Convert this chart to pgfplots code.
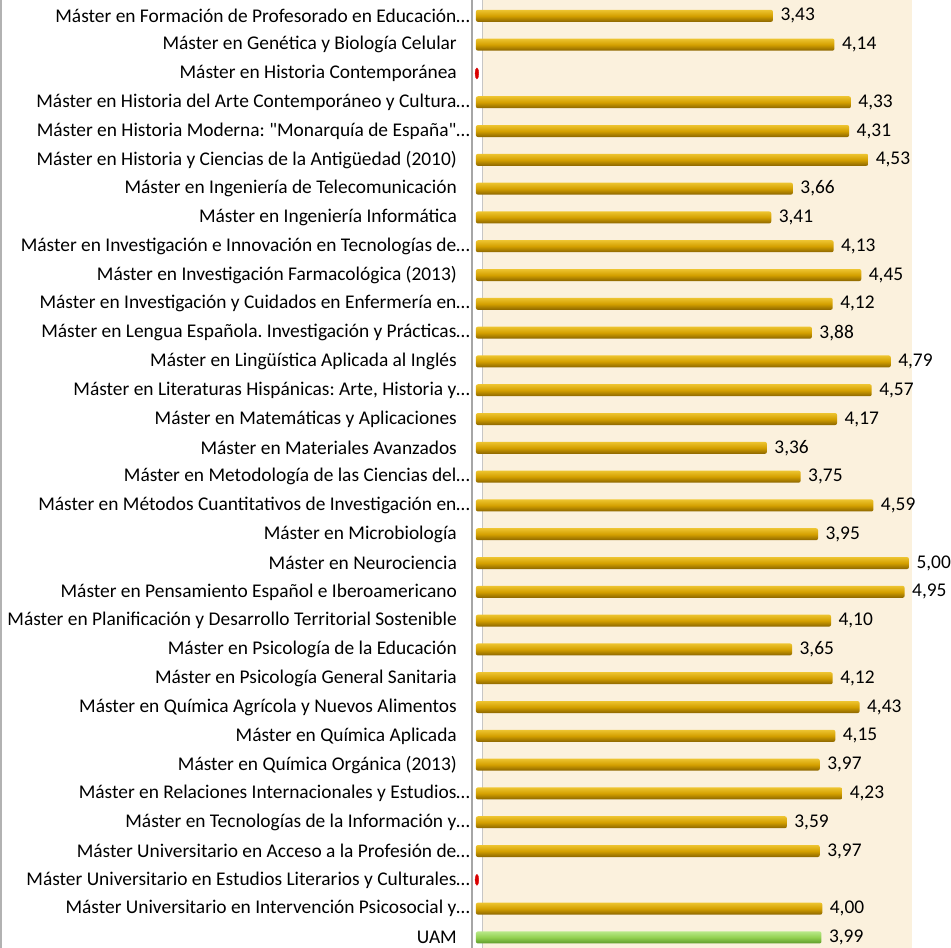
\documentclass[border=0pt]{standalone}
\usepackage{fontspec}
\setmainfont{Carlito}
\usepackage{pgfplots}
\pgfplotsset{compat=1.18}
\frenchspacing
\definecolor{gold}{HTML}{D4A000}
\definecolor{goldlight}{HTML}{EDC430}
\definecolor{golddark}{HTML}{8A6500}
\definecolor{grn}{HTML}{92D050}
\definecolor{grnlight}{HTML}{B8E888}
\definecolor{grndark}{HTML}{5C9A2A}
\definecolor{panel}{HTML}{FBF1DD}
\newcommand{\tsp}{\hspace*{13pt}}
\pgfplotsset{
  vbase/.style={xbar, bar width=12pt, draw=none, rounded corners=2pt,
    nodes near coords,
    nodes near coords style={font=\fontsize{19.4}{23}\selectfont, anchor=west, xshift=4pt, text=black}},
  gbar/.style={vbase, top color=goldlight, bottom color=golddark, middle color=gold},
  ubar/.style={vbase, top color=grnlight, bottom color=grndark, middle color=grn},
}
\begin{document}
\begin{tikzpicture}
\begin{axis}[
  scale only axis, width=440pt, height=950.4pt,
  xmin=-0.045, xmax=5.035, ymin=0.45, ymax=33.45, y dir=reverse,
  axis line style={draw=none}, xtick=\empty,
  ytick={1,...,33}, major tick length=0pt,
  yticklabels={
    {Máster en Formación de Profesorado en Educación…},
    {Máster en Genética y Biología Celular\tsp},
    {Máster en Historia Contemporánea\tsp},
    {Máster en Historia del Arte Contemporáneo y Cultura…},
    {Máster en Historia Moderna: \textquotedbl Monarquía de España\textquotedbl…},
    {Máster en Historia y Ciencias de la Antigüedad (2010)\tsp},
    {Máster en Ingeniería de Telecomunicación\tsp},
    {Máster en Ingeniería Informática\tsp},
    {Máster en Investigación e Innovación en Tecnologías de…},
    {Máster en Investigación Farmacológica (2013)\tsp},
    {Máster en Investigación y Cuidados en Enfermería en…},
    {Máster en Lengua Española. Investigación y Prácticas…},
    {Máster en Lingüística Aplicada al Inglés\tsp},
    {Máster en Literaturas Hispánicas: Arte, Historia y…},
    {Máster en Matemáticas y Aplicaciones\tsp},
    {Máster en Materiales Avanzados\tsp},
    {Máster en Metodología de las Ciencias del…},
    {Máster en Métodos Cuantitativos de Investigación en…},
    {Máster en Microbiología\tsp},
    {Máster en Neurociencia\tsp},
    {Máster en Pensamiento Español e Iberoamericano\tsp},
    {Máster en Planificación y Desarrollo Territorial Sostenible\tsp},
    {Máster en Psicología de la Educación\tsp},
    {Máster en Psicología General Sanitaria\tsp},
    {Máster en Química Agrícola y Nuevos Alimentos\tsp},
    {Máster en Química Aplicada\tsp},
    {Máster en Química Orgánica (2013)\tsp},
    {Máster en Relaciones Internacionales y Estudios…},
    {Máster en Tecnologías de la Información y…},
    {Máster Universitario en Acceso a la Profesión de…},
    {Máster Universitario en Estudios Literarios y Culturales…},
    {Máster Universitario en Intervención Psicosocial y…},
    {UAM\tsp}
  },
  yticklabel style={font=\fontsize{19.4}{23}\selectfont, anchor=east, inner sep=0pt, xshift=-2pt},
  clip=false,
  /pgf/number format/.cd, use comma, fixed, fixed zerofill, precision=2, assume math mode=true
]
\fill[panel] (axis cs:0.07,0.45) rectangle (axis cs:5.035,33.45);
\draw[gray!45, line width=0.8pt] (axis cs:0.07,0.45) -- (axis cs:0.07,33.45);
\draw[gray!70, line width=2pt] (axis cs:-0.045,0.45) -- (axis cs:-0.045,33.45);
\addplot[gbar] coordinates {(3.43,1)};
\addplot[gbar] coordinates {(4.14,2)};
\addplot[gbar] coordinates {(4.33,4)};
\addplot[gbar] coordinates {(4.31,5)};
\addplot[gbar] coordinates {(4.53,6)};
\addplot[gbar] coordinates {(3.66,7)};
\addplot[gbar] coordinates {(3.41,8)};
\addplot[gbar] coordinates {(4.13,9)};
\addplot[gbar] coordinates {(4.45,10)};
\addplot[gbar] coordinates {(4.12,11)};
\addplot[gbar] coordinates {(3.88,12)};
\addplot[gbar] coordinates {(4.79,13)};
\addplot[gbar] coordinates {(4.57,14)};
\addplot[gbar] coordinates {(4.17,15)};
\addplot[gbar] coordinates {(3.36,16)};
\addplot[gbar] coordinates {(3.75,17)};
\addplot[gbar] coordinates {(4.59,18)};
\addplot[gbar] coordinates {(3.95,19)};
\addplot[gbar] coordinates {(5.00,20)};
\addplot[gbar] coordinates {(4.95,21)};
\addplot[gbar] coordinates {(4.10,22)};
\addplot[gbar] coordinates {(3.65,23)};
\addplot[gbar] coordinates {(4.12,24)};
\addplot[gbar] coordinates {(4.43,25)};
\addplot[gbar] coordinates {(4.15,26)};
\addplot[gbar] coordinates {(3.97,27)};
\addplot[gbar] coordinates {(4.23,28)};
\addplot[gbar] coordinates {(3.59,29)};
\addplot[gbar] coordinates {(3.97,30)};
\addplot[gbar] coordinates {(4.00,32)};
\addplot[ubar] coordinates {(3.99,33)};
\addplot[only marks, mark=*, color=red!85!black, mark size=5.5pt, mark options={xscale=0.33}]
  coordinates {(0.012,3) (0.012,31)};
\end{axis}
\draw[gray!60, line width=1.2pt] ([xshift=-471pt]current axis.north west) -- ([xshift=-471pt]current axis.south west);
\pgfresetboundingbox
\path ([xshift=-472pt]current axis.north west) rectangle ([xshift=39pt,yshift=2.4pt]current axis.south east);
\end{tikzpicture}
\end{document}
